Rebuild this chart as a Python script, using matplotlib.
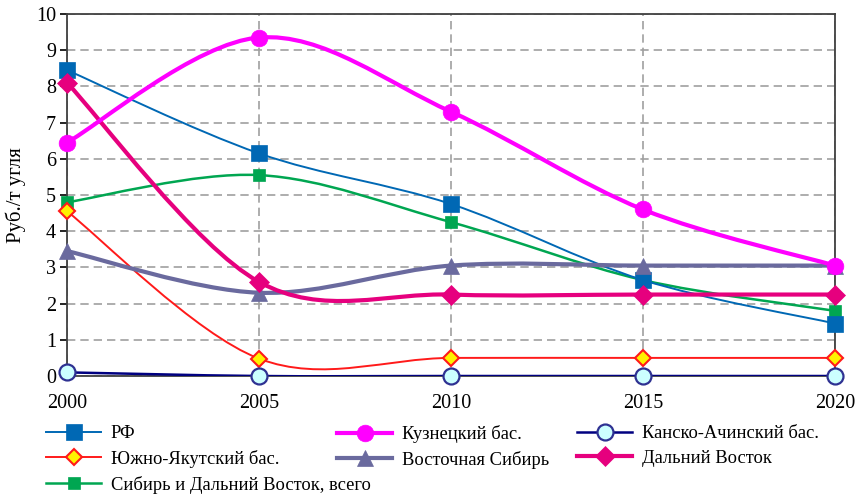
import matplotlib
matplotlib.use('Agg')
import matplotlib.pyplot as plt
from matplotlib.path import Path
from matplotlib.patches import PathPatch
from matplotlib.lines import Line2D
import numpy as np

plt.rcParams['font.family'] = ['Liberation Serif', 'DejaVu Serif']

years = [2000, 2005, 2010, 2015, 2020]

rf = [8.45, 6.15, 4.75, 2.65, 1.45]
kuzn = [6.45, 9.35, 7.3, 4.6, 3.05]
kansk = [0.1, 0.0, 0.0, 0.0, 0.0]
yakut = [4.55, 0.48, 0.5, 0.5, 0.5]
east_sib = [3.45, 2.3, 3.05, 3.05, 3.05]
far_east = [8.1, 2.6, 2.25, 2.25, 2.25]
sib_total = [4.8, 5.55, 4.25, 2.65, 1.8]

names = ['РФ', 'Кузнецкий бас.', 'Канско-Ачинский бас.', 'Южно-Якутский бас.',
         'Восточная Сибирь', 'Дальний Восток', 'Сибирь и Дальний Восток, всего']


def smooth_path(x, y):
    # Excel-like smoothed line as cubic bezier segments
    pts = np.column_stack([x, y]).astype(float)
    n = len(pts)
    verts = [pts[0]]
    codes = [Path.MOVETO]
    for i in range(n - 1):
        p0 = pts[i - 1] if i > 0 else pts[i]
        p1 = pts[i]
        p2 = pts[i + 1]
        p3 = pts[i + 2] if i + 2 < n else pts[i + 1]
        c1 = p1 + (p2 - p0) / 6.0
        c2 = p2 - (p3 - p1) / 6.0
        verts += [c1, c2, p2]
        codes += [Path.CURVE4] * 3
    return Path(verts, codes)


# name, data, line color, lw, marker, ms, face, edge, mew
series = [
    (names[6], sib_total, '#00A651', 1.8, 's', 9, '#00A651', '#00A651', 0.5),
    (names[0], rf, '#0068B4', 1.4, 's', 12, '#0068B4', '#0068B4', 0.5),
    (names[3], yakut, '#FF1A1A', 1.4, 'D', 8, '#FFF200', '#FF1A1A', 1.5),
    (names[4], east_sib, '#6A6A9E', 3.0, '^', 11, '#6A6A9E', '#6A6A9E', 0.5),
    (names[5], far_east, '#E6007E', 3.0, 'D', 10, '#E6007E', '#E6007E', 0.5),
    (names[1], kuzn, '#FF00FF', 3.0, 'o', 12, '#FF00FF', '#FF00FF', 0.5),
    (names[2], kansk, '#000080', 1.8, 'o', 11.5, '#CCFFFF', '#2E3192', 1.6),
]

fig = plt.figure(figsize=(8.57, 4.95), dpi=100)
ax = fig.add_axes([67 / 857, 1 - 376 / 495, (835 - 67) / 857, (376 - 14) / 495])

handles = {}
for name, vals, col, lw, mk, ms, fc, ec, mew in series:
    patch = PathPatch(smooth_path(years, vals), facecolor='none', edgecolor=col,
                      lw=lw, transform=ax.transData, zorder=3, capstyle='round',
                      joinstyle='round')
    ax.add_patch(patch)
    ax.plot(years, vals, linestyle='none', marker=mk, markersize=ms,
            markerfacecolor=fc, markeredgecolor=ec, markeredgewidth=mew,
            zorder=4, clip_on=False)
    handles[name] = Line2D([], [], color=col, lw=lw, marker=mk, markersize=ms,
                           markerfacecolor=fc, markeredgecolor=ec,
                           markeredgewidth=mew)

ax.set_xlim(2000, 2020)
ax.set_ylim(0, 10)
ax.set_xticks(years)
ax.set_yticks(range(0, 11))
ax.tick_params(axis='both', labelsize=14.5, colors='black')
ax.tick_params(axis='x', length=0, pad=13)
ax.tick_params(axis='y', length=5, width=1.2, direction='out', pad=3)
ax.grid(True, color='#A0A0A0', linestyle=(0, (5, 3)), lw=1.2, zorder=1)
ax.set_axisbelow(True)
for sp in ax.spines.values():
    sp.set_color('#404040')
    sp.set_linewidth(1.3)
ax.set_ylabel('Руб./т угля', fontsize=15, labelpad=7)

cols = [
    ([names[0], names[3], names[6]], 46 / 857),
    ([names[1], names[4]], 337 / 857),
    ([names[2], names[5]], 577 / 857),
]
for col_names, xpos in cols:
    leg = fig.legend([handles[n] for n in col_names], col_names,
                     loc='upper left', bbox_to_anchor=(xpos, 1 - 425 / 495),
                     frameon=False, fontsize=13.3, handlelength=3.0,
                     handletextpad=0.5, labelspacing=0.42, borderaxespad=0,
                     borderpad=0)

fig.savefig('out.png', dpi=100)
